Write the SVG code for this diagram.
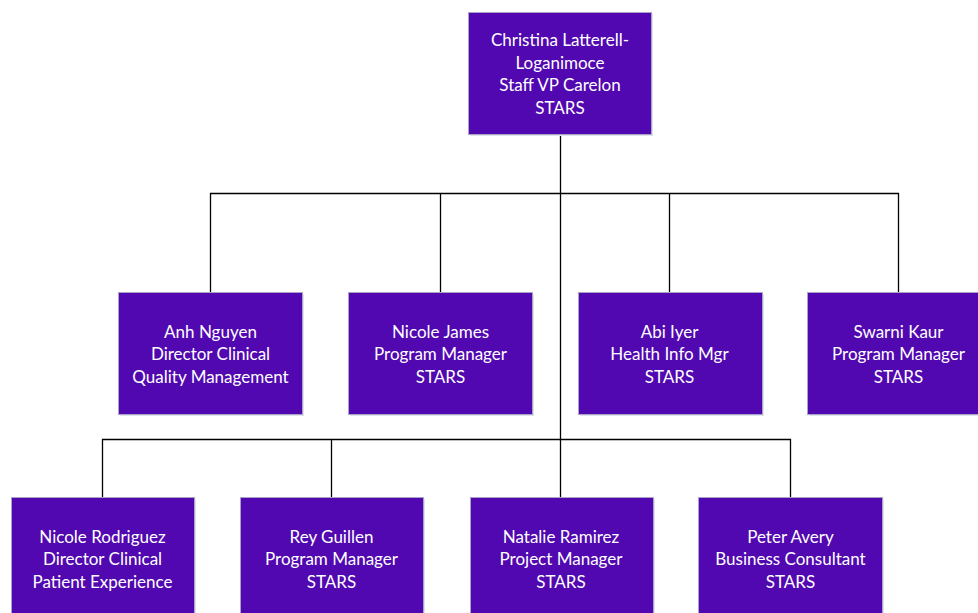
<svg xmlns="http://www.w3.org/2000/svg" width="978" height="613" viewBox="0 0 978 613">
<defs>
<style>
.box{fill:#5108b1;stroke:#a9a3c8;stroke-width:1}
.sh{fill:#dfe3ee}
.t{font-family:Lato,"Open Sans",sans-serif;font-size:17px;fill:#ffffff;text-anchor:middle}
.c{fill:none;stroke:#000000;stroke-width:1.3}
</style>
</defs>
<rect width="978" height="613" fill="#ffffff"/>
<g id="connectors">
<path class="c" d="M560.5,134 V497"/>
<path class="c" d="M210.5,292 V193.5 H898.5 V292"/>
<path class="c" d="M440.5,193.5 V292"/>
<path class="c" d="M669.5,193.5 V292"/>
<path class="c" d="M102.5,497 V439.5 H790.5 V497"/>
<path class="c" d="M331.5,439.5 V497"/>
</g>
<g id="n-christina">
<rect class="sh" x="470" y="14" width="183" height="122"/>
<rect class="box" x="468.5" y="12.5" width="183" height="122"/>
<text class="t" x="560" y="46">Christina Latterell-</text>
<text class="t" x="560" y="69">Loganimoce</text>
<text class="t" x="560" y="91">Staff VP Carelon</text>
<text class="t" x="560" y="114">STARS</text>
</g>
<g id="n-anh">
<rect class="sh" x="120" y="294" width="184" height="122"/>
<rect class="box" x="118.5" y="292.5" width="184" height="122"/>
<text class="t" x="210.5" y="338">Anh Nguyen</text>
<text class="t" x="210.5" y="360">Director Clinical</text>
<text class="t" x="210.5" y="383">Quality Management</text>
</g>
<g id="n-nicole-james">
<rect class="sh" x="350" y="294" width="184" height="122"/>
<rect class="box" x="348.5" y="292.5" width="184" height="122"/>
<text class="t" x="440.5" y="338">Nicole James</text>
<text class="t" x="440.5" y="360">Program Manager</text>
<text class="t" x="440.5" y="383">STARS</text>
</g>
<g id="n-abi">
<rect class="sh" x="580" y="294" width="184" height="122"/>
<rect class="box" x="578.5" y="292.5" width="184" height="122"/>
<text class="t" x="669.5" y="338">Abi Iyer</text>
<text class="t" x="669.5" y="360">Health Info Mgr</text>
<text class="t" x="669.5" y="383">STARS</text>
</g>
<g id="n-swarni">
<rect class="sh" x="809" y="294" width="184" height="122"/>
<rect class="box" x="807.5" y="292.5" width="184" height="122"/>
<text class="t" x="898.5" y="338">Swarni Kaur</text>
<text class="t" x="898.5" y="360">Program Manager</text>
<text class="t" x="898.5" y="383">STARS</text>
</g>
<g id="n-nicole-rodriguez">
<rect class="sh" x="13" y="499" width="183" height="122"/>
<rect class="box" x="11.5" y="497.5" width="183" height="122"/>
<text class="t" x="102.5" y="543">Nicole Rodriguez</text>
<text class="t" x="102.5" y="565">Director Clinical</text>
<text class="t" x="102.5" y="588">Patient Experience</text>
</g>
<g id="n-rey">
<rect class="sh" x="242" y="499" width="183" height="122"/>
<rect class="box" x="240.5" y="497.5" width="183" height="122"/>
<text class="t" x="331.5" y="543">Rey Guillen</text>
<text class="t" x="331.5" y="565">Program Manager</text>
<text class="t" x="331.5" y="588">STARS</text>
</g>
<g id="n-natalie">
<rect class="sh" x="472" y="499" width="183" height="122"/>
<rect class="box" x="470.5" y="497.5" width="183" height="122"/>
<text class="t" x="561" y="543">Natalie Ramirez</text>
<text class="t" x="561" y="565">Project Manager</text>
<text class="t" x="561" y="588">STARS</text>
</g>
<g id="n-peter">
<rect class="sh" x="700" y="499" width="184" height="122"/>
<rect class="box" x="698.5" y="497.5" width="184" height="122"/>
<text class="t" x="790.5" y="543">Peter Avery</text>
<text class="t" x="790.5" y="565">Business Consultant</text>
<text class="t" x="790.5" y="588">STARS</text>
</g>
</svg>
